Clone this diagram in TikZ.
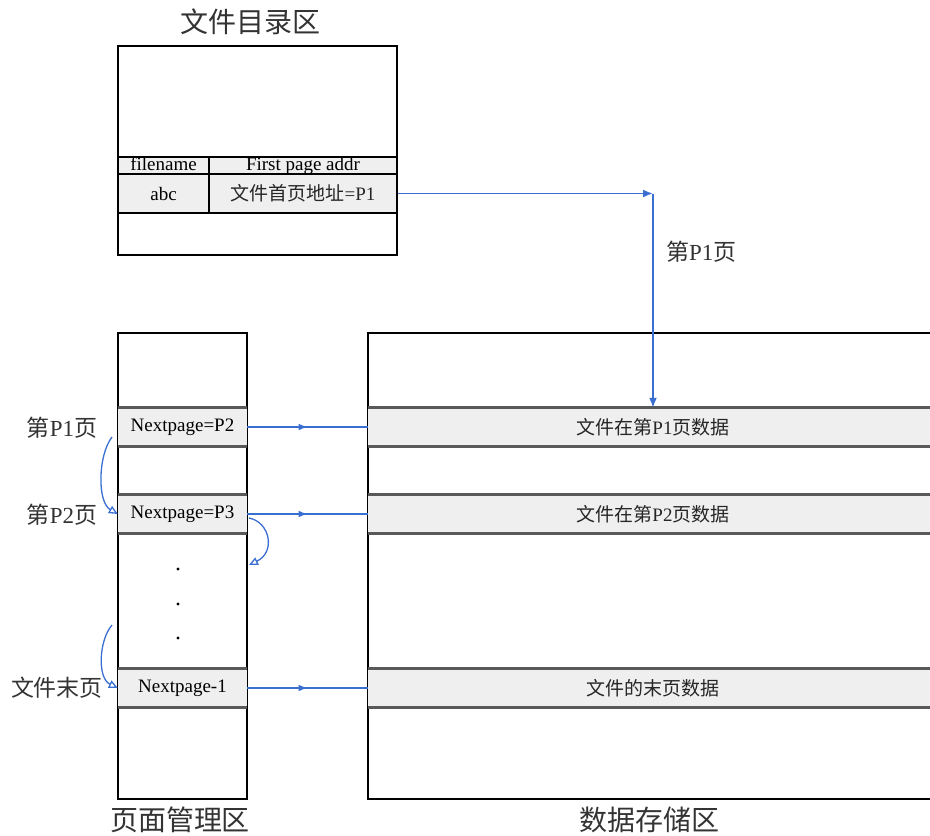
\documentclass[tikz,border=0pt]{standalone}
\usepackage{fontspec}
\setmainfont{Liberation Serif}
\newfontfamily\cjk{Noto Sans CJK SC}
\usetikzlibrary{arrows.meta,decorations.markings}
\definecolor{blueline}{HTML}{3A6FD2}
\definecolor{rowfill}{HTML}{EFEFEF}
\tikzset{
  outer/.style={draw=black, line width=1.3pt, inner sep=0pt, fill=white},
  rowbox/.style={fill=rowfill, inner sep=0pt},
  rowline/.style={draw=black!65, line width=2.8pt},
  cellbox/.style={draw=black, line width=1.9pt, fill=rowfill, inner sep=0pt},
  conn/.style={draw=blueline, line width=1.8pt},
  midarrow/.style={postaction={decorate}, decoration={markings,
     mark=at position 0.5 with {\arrow[blueline]{Latex[length=9pt,width=7pt]}}}},
  endarrow/.style={-{Latex[length=10pt,width=8pt]}},
  curv/.style={draw=blueline, line width=1.3pt, -{Triangle[open,length=9pt,width=8pt]}},
  bigtitle/.style={font=\cjk\fontsize{28}{30}\selectfont, text=black!80},
  sidelabel/.style={font=\fontsize{23}{25}\selectfont, text=black!80, inner sep=0pt},
  smallcjk/.style={font=\fontsize{19}{21}\selectfont, text=black!85},
  latin/.style={font=\fontsize{19}{21}\selectfont, text=black},
  hdr/.style={font=\fontsize{19}{21}\selectfont, text=black, text height=12pt, text depth=3pt},
}
\begin{document}
\begin{tikzpicture}[x=1pt,y=-1pt]
\useasboundingbox (0,0) rectangle (930,836);
\clip (0,0) rectangle (930,836);

% ---------- file directory area ----------
\node[bigtitle] (tdir) at (250,22) {文件目录区};
\node[outer, minimum width=279pt, minimum height=209pt] (dir) at (257.5,150.5) {};
\node[cellbox, hdr, minimum width=91pt, minimum height=17pt] (fn) at (163.5,165.5) {filename};
\node[cellbox, hdr, minimum width=188pt, minimum height=17pt] (fp) at (303,165.5) {First page addr};
\node[cellbox, latin, minimum width=91pt, minimum height=39pt] (abc) at (163.5,193.5) {abc};
\node[cellbox, smallcjk, minimum width=188pt, minimum height=39pt] (dirv) at (303,193.5) {{\cjk 文件首页地址}=P1};

% ---------- page management area ----------
\node[outer, minimum width=129pt, minimum height=466pt] (pm) at (182.5,566) {};
\node[rowbox, latin, minimum width=129pt, minimum height=38pt] (pm1) at (182.5,427) {Nextpage=P2};
\node[rowbox, latin, minimum width=129pt, minimum height=38pt] (pm2) at (182.5,514) {Nextpage=P3};
\node[rowbox, latin, minimum width=129pt, minimum height=38pt] (pm3) at (182.5,688) {Nextpage-1};
\foreach \r in {pm1,pm2,pm3}{
  \draw[rowline] (\r.north west) -- (\r.north east);
  \draw[rowline] (\r.south west) -- (\r.south east);
}
\draw[line width=1.3pt] (pm.north west) rectangle (pm.south east);
\fill (178,569) circle (1.7pt);
\fill (178,604) circle (1.7pt);
\fill (178,638) circle (1.7pt);
\node[bigtitle] (tpm) at (180,820) {页面管理区};

% ---------- data storage area ----------
\node[outer, minimum width=570pt, minimum height=466pt] (ds) at (653,566) {};
\node[rowbox, smallcjk, minimum width=570pt, minimum height=38pt] (d1) at (653,427) {{\cjk 文件在第}P1{\cjk 页数据}};
\node[rowbox, smallcjk, minimum width=570pt, minimum height=38pt] (d2) at (653,514) {{\cjk 文件在第}P2{\cjk 页数据}};
\node[rowbox, smallcjk, minimum width=570pt, minimum height=38pt] (d3) at (653,688) {\cjk 文件的末页数据};
\foreach \r in {d1,d2,d3}{
  \draw[rowline] (\r.north west) -- (\r.north east);
  \draw[rowline] (\r.south west) -- (\r.south east);
}
\draw[line width=1.3pt] (ds.north east) -- (ds.north west) -- (ds.south west) -- (ds.south east);
\node[bigtitle] (tds) at (649,820) {数据存储区};

% ---------- left labels ----------
\node[sidelabel] (lp1) at (62,428) {{\cjk 第}P1{\cjk 页}};
\node[sidelabel] (lp2) at (62,515) {{\cjk 第}P2{\cjk 页}};
\node[sidelabel] (lend) at (57,688) {\cjk 文件末页};

% ---------- connectors ----------
\coordinate (corner) at (d1.north |- dirv.east);
\draw[conn, endarrow] (dirv.east) -- (corner);
\draw[conn, endarrow] (corner) -- (d1.north);
\node[sidelabel, anchor=west] (lp1r) at (666,252) {{\cjk 第}P1{\cjk 页}};

\draw[conn, midarrow] (pm1.east) -- (d1.west);
\draw[conn, midarrow] (pm2.east) -- (d2.west);
\draw[conn, midarrow] (pm3.east) -- (d3.west);

\coordinate (c1s) at (112,437);
\coordinate (c2s) at (249,518);
\coordinate (c2e) at (249,565);
\coordinate (c3s) at (112,625);
\draw[curv] (c1s) .. controls (98,455) and (97,502) .. (pm2.west);
\draw[curv] (c2s) .. controls (270,522) and (276,552) .. (c2e);
\draw[curv] (c3s) .. controls (99,640) and (97,678) .. (pm3.west);
\end{tikzpicture}
\end{document}
